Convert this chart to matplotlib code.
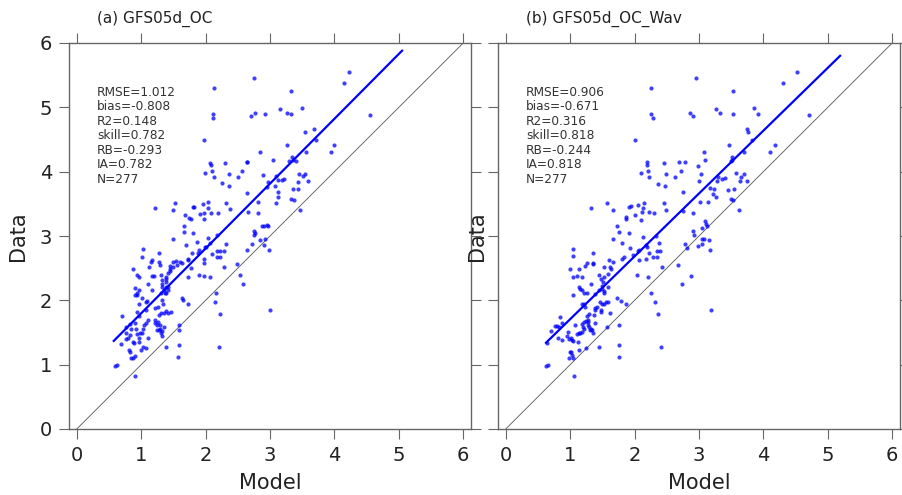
import numpy as np
import matplotlib.pyplot as plt

# panel (a) GFS05d_OC: model / data pairs
model_a = [4.22, 4.15, 2.75, 2.13, 3.33, 2.12, 2.11, 2.70, 2.76, 2.92, 3.16, 3.27, 3.33, 3.49, 4.55,
           1.98, 3.54, 3.68, 3.72, 3.26, 4.00, 3.95, 2.85, 3.56, 3.05, 3.34, 3.36, 3.30, 3.40, 2.07,
           2.09, 2.30, 2.64, 2.65, 1.99, 2.10, 2.37, 2.13, 2.50, 2.57, 2.89, 2.97, 3.10, 3.13, 3.18,
           3.22, 3.45, 3.51, 3.55, 3.43, 3.59, 2.26, 2.37, 2.64, 2.95, 3.08, 3.13, 3.12, 3.35, 3.43,
           3.33, 3.37, 3.10, 2.82, 3.46, 1.96, 2.04, 2.03, 2.31, 2.38, 1.80, 1.82, 1.53, 1.49, 1.22,
           1.91, 1.98, 2.08, 2.19, 1.98, 1.75, 1.77, 1.68, 1.67, 1.66, 1.80, 1.50, 2.66, 2.81, 2.75,
           2.75, 2.77, 2.88, 2.95, 2.90, 2.97, 2.85, 2.92, 2.90, 2.99, 2.72, 2.65, 2.54, 2.58, 2.04,
           2.17, 2.01, 2.07, 2.22, 2.28, 2.18, 2.17, 2.22, 2.10, 1.97, 1.99, 1.89, 1.97, 1.86, 1.79,
           1.70, 1.73, 1.72, 1.64, 1.90, 2.07, 2.31, 2.29, 2.48, 1.78, 1.73, 1.54, 1.56, 1.49, 1.50,
           1.45, 1.60, 1.45, 1.41, 1.39, 1.45, 1.38, 1.39, 1.38, 1.42, 1.31, 1.32, 1.32, 1.33, 1.36,
           1.31, 1.37, 1.39, 1.41, 1.28, 1.28, 1.29, 1.17, 1.15, 1.12, 1.17, 1.20, 1.11, 1.17, 1.03,
           1.02, 0.93, 0.96, 0.87, 0.90, 0.93, 0.97, 0.90, 0.94, 0.97, 1.02, 1.07, 1.09, 1.11, 1.08,
           1.22, 1.26, 1.33, 1.34, 1.28, 1.31, 1.35, 1.39, 1.42, 1.46, 1.63, 1.65, 1.73, 1.22, 1.22,
           1.24, 1.26, 1.29, 1.30, 1.32, 1.27, 1.24, 1.31, 1.32, 1.35, 1.59, 1.59, 1.58, 1.57, 1.39,
           0.93, 0.96, 1.07, 1.05, 1.03, 1.02, 0.98, 0.97, 0.96, 0.99, 1.03, 1.07, 1.10, 0.82, 0.84,
           0.76, 0.77, 0.79, 0.77, 0.83, 0.87, 0.89, 0.90, 0.92, 0.93, 0.70, 0.69, 0.81, 0.83, 0.85,
           0.88, 0.90, 0.91, 0.59, 0.62, 2.14, 2.23, 2.21, 3.00, 1.97, 2.16, 1.90]
data_a = [5.55, 5.38, 5.45, 5.30, 5.26, 4.90, 4.84, 4.86, 4.91, 4.90, 4.98, 4.91, 4.90, 4.99, 4.88,
          4.49, 4.62, 4.66, 4.49, 4.41, 4.42, 4.31, 4.31, 4.31, 4.18, 4.23, 4.18, 4.17, 4.16, 4.13,
          4.11, 4.13, 4.15, 4.15, 3.98, 4.01, 3.97, 3.91, 3.92, 4.01, 3.95, 3.84, 3.93, 3.87, 3.87,
          3.89, 3.97, 3.93, 3.96, 3.84, 3.85, 3.82, 3.78, 3.67, 3.76, 3.77, 3.69, 3.61, 3.73, 3.73,
          3.58, 3.56, 3.52, 3.53, 3.41, 3.49, 3.53, 3.43, 3.51, 3.42, 3.45, 3.45, 3.51, 3.41, 3.44,
          3.34, 3.35, 3.35, 3.35, 3.26, 3.28, 3.27, 3.32, 3.16, 3.06, 3.04, 2.96, 3.37, 3.36, 3.08,
          3.02, 3.04, 3.15, 3.17, 3.16, 3.16, 2.94, 2.95, 2.86, 2.79, 2.88, 2.79, 2.39, 2.26, 2.97,
          3.01, 2.83, 2.89, 2.77, 2.77, 2.76, 2.67, 2.67, 2.72, 2.65, 2.83, 2.74, 2.58, 2.91, 2.73,
          2.86, 2.65, 2.63, 2.58, 2.40, 2.37, 2.87, 2.52, 2.56, 2.51, 2.37, 2.61, 2.55, 2.59, 2.52,
          2.54, 2.59, 2.48, 2.42, 2.37, 2.45, 2.33, 2.29, 2.21, 2.21, 2.39, 2.32, 2.25, 2.21, 2.16,
          2.12, 2.11, 2.11, 2.16, 2.73, 2.59, 2.55, 2.63, 2.60, 2.52, 2.38, 2.38, 2.26, 2.16, 2.80,
          2.68, 2.39, 2.37, 2.48, 2.19, 2.11, 2.16, 2.08, 2.08, 1.95, 2.03, 1.97, 1.99, 1.70, 1.85,
          1.88, 1.89, 2.01, 1.94, 1.77, 1.80, 1.81, 1.84, 1.81, 1.82, 2.03, 2.01, 1.94, 1.70, 1.64,
          1.62, 1.67, 1.62, 1.56, 1.52, 1.54, 1.54, 1.49, 1.45, 1.59, 1.62, 1.54, 1.31, 1.12, 1.28,
          1.82, 1.76, 1.65, 1.62, 1.56, 1.50, 1.49, 1.42, 1.36, 1.23, 1.28, 1.26, 1.41, 1.63, 1.56,
          1.59, 1.49, 1.42, 1.40, 1.46, 1.36, 1.33, 1.64, 1.56, 1.47, 1.75, 1.32, 1.23, 1.19, 1.10,
          1.11, 1.13, 0.82, 0.98, 0.99, 1.98, 1.79, 1.28, 1.85, 2.38, 2.12, 2.79]

# panel (b) GFS05d_OC_Wav
model_b = [4.52, 4.31, 2.95, 2.26, 3.53, 2.26, 2.29, 2.86, 2.90, 3.26, 3.32, 3.53, 3.85, 3.91, 4.71,
           2.01, 3.75, 3.76, 3.83, 3.47, 4.18, 4.10, 3.07, 3.70, 3.10, 3.51, 3.51, 3.50, 2.45, 2.69,
           2.78, 2.19, 2.20, 2.10, 2.21, 2.22, 2.48, 2.62, 2.72, 2.99, 3.03, 3.00, 3.29, 3.28, 3.35,
           3.40, 3.57, 3.65, 3.70, 3.63, 3.75, 2.36, 2.47, 2.75, 3.17, 3.23, 3.21, 3.26, 3.45, 3.54,
           3.50, 3.53, 3.14, 3.01, 3.62, 1.57, 1.67, 1.32, 1.91, 1.95, 2.05, 2.15, 2.11, 2.13, 2.23,
           2.30, 2.46, 2.48, 2.01, 1.86, 1.86, 2.10, 1.72, 1.76, 1.91, 1.67, 2.75, 2.90, 3.09, 3.11,
           3.13, 3.05, 2.91, 2.92, 2.99, 3.04, 3.08, 3.16, 3.05, 3.17, 2.78, 2.82, 2.87, 2.74, 2.13,
           2.18, 2.20, 2.33, 2.38, 2.39, 2.35, 2.23, 2.29, 2.35, 2.18, 2.07, 2.06, 1.93, 1.80, 1.97,
           2.07, 1.83, 1.81, 1.60, 1.62, 1.64, 1.66, 1.52, 1.58, 1.53, 1.48, 1.45, 1.51, 1.50, 1.49,
           1.52, 1.44, 1.53, 1.59, 1.38, 1.33, 1.36, 1.36, 1.36, 1.26, 1.23, 1.19, 1.13, 1.10, 1.05,
           1.00, 1.04, 1.05, 1.05, 1.13, 1.15, 1.19, 1.22, 1.26, 1.39, 1.39, 1.41, 1.46, 1.49, 1.52,
           1.55, 1.59, 1.62, 1.48, 1.48, 1.37, 1.72, 1.79, 1.87, 2.03, 2.21, 2.43, 2.67, 2.26, 2.32,
           2.36, 2.41, 3.18, 1.19, 1.22, 1.23, 1.30, 1.26, 1.27, 1.25, 1.28, 1.28, 1.29, 1.33, 1.34,
           1.31, 1.36, 1.38, 1.21, 1.18, 1.18, 1.20, 1.22, 1.25, 1.44, 1.57, 1.76, 1.76, 1.76, 0.84,
           0.88, 0.70, 0.77, 0.80, 0.82, 0.81, 0.88, 0.96, 0.95, 0.98, 1.02, 1.03, 1.04, 1.08, 1.11,
           1.13, 1.15, 1.12, 1.14, 1.00, 1.01, 0.98, 1.03, 1.05, 1.06, 0.63, 0.66, 0.64]
data_b = [5.55, 5.38, 5.45, 5.30, 5.26, 4.90, 4.84, 4.91, 4.86, 4.98, 4.91, 4.90, 4.99, 4.89, 4.88,
          4.49, 4.67, 4.62, 4.49, 4.41, 4.42, 4.31, 4.31, 4.30, 4.18, 4.23, 4.18, 4.16, 4.13, 4.15,
          4.15, 4.15, 4.10, 3.98, 4.01, 3.91, 3.97, 3.92, 4.01, 4.09, 3.96, 3.85, 3.92, 3.85, 3.89,
          3.90, 3.98, 3.92, 3.97, 3.85, 3.85, 3.81, 3.78, 3.68, 3.74, 3.73, 3.65, 3.61, 3.72, 3.73,
          3.58, 3.56, 3.53, 3.53, 3.41, 3.51, 3.41, 3.44, 3.45, 3.46, 3.48, 3.52, 3.37, 3.44, 3.37,
          3.35, 3.51, 3.41, 3.33, 3.30, 3.27, 3.25, 3.16, 3.06, 3.05, 2.96, 3.39, 3.36, 3.23, 3.19,
          3.16, 3.12, 3.08, 3.01, 2.84, 2.95, 2.95, 2.94, 2.87, 2.79, 2.87, 2.81, 2.38, 2.25, 2.98,
          2.86, 2.83, 3.00, 2.89, 2.77, 2.76, 2.74, 2.67, 2.67, 2.65, 2.78, 2.76, 2.81, 2.89, 2.71,
          2.62, 2.67, 2.65, 2.62, 2.52, 2.48, 2.59, 2.52, 2.41, 2.37, 2.33, 2.39, 2.29, 2.22, 2.18,
          2.15, 2.16, 2.11, 2.20, 2.10, 2.26, 2.73, 2.58, 2.56, 2.58, 2.53, 2.37, 2.49, 2.38, 2.36,
          2.48, 2.80, 2.69, 2.08, 2.20, 2.17, 2.16, 2.11, 2.11, 1.88, 1.85, 1.90, 1.97, 1.94, 1.95,
          1.98, 1.97, 1.81, 1.82, 1.85, 1.77, 2.03, 1.99, 1.94, 2.39, 2.37, 2.52, 2.55, 2.12, 1.98,
          1.79, 1.28, 1.85, 1.94, 1.94, 1.90, 1.79, 1.76, 1.70, 1.68, 1.66, 1.62, 1.58, 1.56, 1.54,
          1.54, 1.50, 1.64, 1.66, 1.63, 1.51, 1.59, 1.55, 1.26, 1.28, 1.59, 1.62, 1.31, 1.12, 1.74,
          1.64, 1.52, 1.60, 1.60, 1.59, 1.42, 1.38, 1.51, 1.44, 1.40, 1.42, 1.38, 1.37, 1.62, 1.47,
          1.49, 1.49, 1.36, 1.23, 1.20, 1.19, 1.11, 1.15, 1.10, 0.83, 0.98, 0.99, 1.33]

titles = ["(a) GFS05d_OC", "(b) GFS05d_OC_Wav"]
stats_a = ["RMSE=1.012", "bias=-0.808", "R2=0.148", "skill=0.782", "RB=-0.293", "IA=0.782", "N=277"]
stats_b = ["RMSE=0.906", "bias=-0.671", "R2=0.316", "skill=0.818", "RB=-0.244", "IA=0.818", "N=277"]

# fitted line: slope, intercept, x range
fit_a = [1.008, 0.79]
fit_b = [0.977, 0.73]
fit_x_a = [0.575, 5.05]
fit_x_b = [0.625, 5.19]

ticks = [0, 1, 2, 3, 4, 5, 6]

fig = plt.figure(figsize=(9.02, 4.95), dpi=100)
ax1 = fig.add_axes([69 / 902, 66 / 495, 402 / 902, 386 / 495])
ax2 = fig.add_axes([498 / 902, 66 / 495, 402 / 902, 386 / 495])

panels = [
    (ax1, model_a, data_a, fit_a, fit_x_a, stats_a, titles[0]),
    (ax2, model_b, data_b, fit_b, fit_x_b, stats_b, titles[1]),
]

for i, (ax, mod, dat, fit, fx, stats, title) in enumerate(panels):
    ax.plot([0, 6], [0, 6], color="#555555", lw=0.6, zorder=1)
    ax.scatter(mod, dat, s=9, color="#0000ff", alpha=0.75, linewidths=0, zorder=2)
    fx = np.array(fx)
    ax.plot(fx, fit[0] * fx + fit[1], color="#0000ff", lw=1.6, zorder=3)

    ax.set_xlim(-0.12, 6.12)
    ax.set_ylim(0, 6)
    ax.set_xticks(ticks)
    ax.set_yticks(ticks)
    for sp in ax.spines.values():
        sp.set_color("#666666")
        sp.set_linewidth(1.0)
    ax.tick_params(direction="out", length=7.2, width=0.8, color="#666666",
                   top=True, right=True, labelsize=14, labelcolor="#222222", pad=5)
    if i == 1:
        ax.tick_params(labelleft=False)
        ax.set_ylabel("Data", fontsize=15, color="#222222", labelpad=1)
    else:
        ax.set_ylabel("Data", fontsize=15, color="#222222", labelpad=8)
    ax.set_xlabel("Model", fontsize=15, color="#222222", labelpad=6)

    ax.text(0.07, 1.063, title, transform=ax.transAxes, fontsize=11,
            color="#222222", ha="left", va="center")
    ax.text(0.07, 0.889, "\n".join(stats), transform=ax.transAxes, fontsize=8.7,
            color="#333333", ha="left", va="top", linespacing=1.15)

fig.savefig("out.png", dpi=100)
